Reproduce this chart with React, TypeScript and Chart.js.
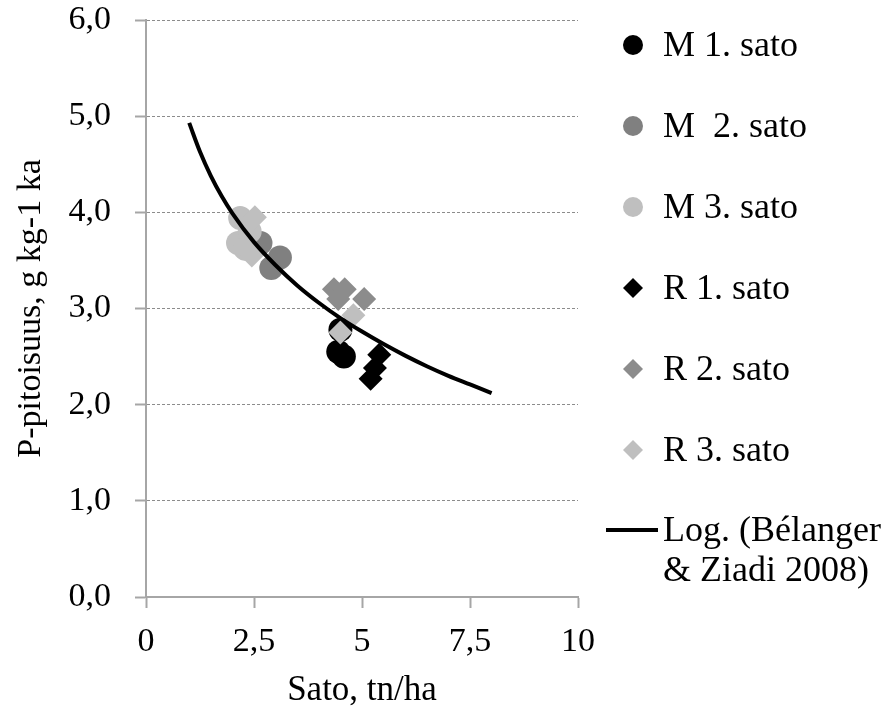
import React, { useEffect, useRef } from 'react';
import { Chart, registerables } from 'chart.js';

Chart.register(...registerables);

// ---- data ----
const seriesNames = ['M 1. sato', 'M  2. sato', 'M 3. sato', 'R 1. sato', 'R 2. sato', 'R 3. sato'];
const trendLabel = ['Log. (Bélanger', '& Ziadi 2008)'];

const m1X = [4.5, 4.45, 4.58];
const m1Y = [2.78, 2.55, 2.5];
const m2X = [2.65, 2.9, 3.1];
const m2Y = [3.68, 3.42, 3.53];
const m3X = [2.18, 2.13, 2.4, 2.3];
const m3Y = [3.94, 3.68, 3.8, 3.62];
const r1X = [5.4, 5.3, 5.2];
const r1Y = [2.52, 2.38, 2.27];
const r2X = [4.35, 4.6, 4.45, 5.05];
const r2Y = [3.2, 3.2, 3.1, 3.1];
const r3X = [4.8, 4.5, 2.52, 2.45];
const r3Y = [2.93, 2.75, 3.95, 3.55];

const trendX = [1, 1.25, 1.5, 1.75, 2, 2.5, 3, 3.5, 4, 4.5, 5, 5.5, 6, 6.5, 7, 7.5, 8];
const trendY = [4.93, 4.63, 4.38, 4.17, 3.99, 3.69, 3.45, 3.24, 3.06, 2.9, 2.76, 2.63, 2.51, 2.4, 2.3, 2.21, 2.12];

const xTickLabels = ['0', '2,5', '5', '7,5', '10'];
const yTickLabels = ['0,0', '1,0', '2,0', '3,0', '4,0', '5,0', '6,0'];

const xTitle = 'Sato, tn/ha';
const yTitle = 'P-pitoisuus, g kg-1 ka';

// ---- styles ----
const FONT = "'Liberation Serif', 'Times New Roman', serif";
const FS = 34;
const LFS = 36;
const seriesColors = ['#000000', '#808080', '#bfbfbf', '#000000', '#8c8c8c', '#bfbfbf'];
const seriesShapes = ['circle', 'circle', 'circle', 'diamond', 'diamond', 'diamond'];

const pts = (xs: number[], ys: number[]) => xs.map((x, i) => ({ x, y: ys[i] }));

const legendPlugin = {
  id: 'sideLegend',
  afterDraw(chart: any) {
    const ctx = chart.ctx as CanvasRenderingContext2D;
    ctx.save();
    ctx.font = `${LFS}px ${FONT}`;
    ctx.textBaseline = 'middle';
    ctx.textAlign = 'left';
    const mx = 633;
    const tx = 663;
    seriesNames.forEach((name, i) => {
      const y = 45 + i * 81;
      ctx.fillStyle = seriesColors[i];
      ctx.beginPath();
      if (seriesShapes[i] === 'circle') {
        ctx.arc(mx, y, 10, 0, Math.PI * 2);
      } else {
        ctx.moveTo(mx, y - 10);
        ctx.lineTo(mx + 10, y);
        ctx.lineTo(mx, y + 10);
        ctx.lineTo(mx - 10, y);
        ctx.closePath();
      }
      ctx.fill();
      ctx.fillStyle = '#000';
      ctx.fillText(name, tx, y + 2);
    });
    const ly = 530;
    ctx.strokeStyle = '#000';
    ctx.lineWidth = 4;
    ctx.beginPath();
    ctx.moveTo(606, ly);
    ctx.lineTo(658, ly);
    ctx.stroke();
    ctx.fillStyle = '#000';
    ctx.fillText(trendLabel[0], tx, ly + 2);
    ctx.fillText(trendLabel[1], tx, ly + 42);
    ctx.restore();
  },
};

export default function App() {
  const ref = useRef<HTMLCanvasElement>(null);
  useEffect(() => {
    if (!ref.current) return;
    const scatter = (label: string, xs: number[], ys: number[], idx: number, order: number) => ({
      type: 'scatter' as const,
      label,
      data: pts(xs, ys),
      backgroundColor: seriesColors[idx],
      borderColor: seriesColors[idx],
      borderWidth: 0,
      pointStyle: seriesShapes[idx] === 'circle' ? 'circle' : 'rectRot',
      pointRadius: 12,
      order,
    });
    const chart = new Chart(ref.current, {
      type: 'scatter',
      data: {
        datasets: [
          {
            type: 'line',
            label: trendLabel.join(' '),
            data: pts(trendX, trendY),
            borderColor: '#000',
            borderWidth: 4,
            pointRadius: 0,
            fill: false,
            showLine: true,
            cubicInterpolationMode: 'monotone',
            order: 0,
          } as any,
          scatter(seriesNames[5], r3X, r3Y, 5, 1),
          scatter(seriesNames[4], r2X, r2Y, 4, 2),
          scatter(seriesNames[3], r1X, r1Y, 3, 3),
          scatter(seriesNames[2], m3X, m3Y, 2, 4),
          scatter(seriesNames[1], m2X, m2Y, 1, 5),
          scatter(seriesNames[0], m1X, m1Y, 0, 6),
        ],
      },
      options: {
        animation: false,
        responsive: true,
        maintainAspectRatio: false,
        layout: { padding: { left: 0, top: 20, right: 316, bottom: 0 } },
        plugins: { legend: { display: false }, tooltip: { enabled: false } },
        scales: {
          x: {
            type: 'linear',
            min: 0,
            max: 10,
            afterFit: (s: any) => { s.height = 111; s.paddingLeft = 0; s.paddingRight = 0; },
            ticks: {
              stepSize: 2.5,
              color: '#000',
              padding: 14,
              font: { family: FONT, size: FS },
              callback: (v: any) => xTickLabels[Math.round(Number(v) / 2.5)] ?? '',
            },
            grid: { drawOnChartArea: false, drawTicks: true, tickLength: 11, color: '#a6a6a6', tickWidth: 2 },
            border: { color: '#a6a6a6', width: 2 },
            title: {
              display: true,
              text: xTitle,
              color: '#000',
              font: { family: FONT, size: 35, lineHeight: 1 },
              padding: { top: 0, bottom: 0 },
            },
          },
          y: {
            type: 'linear',
            min: 0,
            max: 6,
            afterFit: (s: any) => { s.width = 146; s.paddingTop = 0; s.paddingBottom = 0; },
            ticks: {
              stepSize: 1,
              color: '#000',
              padding: 24,
              font: { family: FONT, size: FS },
              callback: (v: any) => yTickLabels[Math.round(Number(v))] ?? '',
            },
            grid: { color: '#8c8c8c', lineWidth: 1, tickLength: 11, tickColor: '#a6a6a6', tickWidth: 2 },
            border: { color: '#a6a6a6', width: 2, dash: [3, 2] },
            title: {
              display: true,
              text: yTitle,
              color: '#000',
              font: { family: FONT, size: FS, lineHeight: 1 },
              padding: { top: 14, bottom: 0 },
            },
          },
        },
      },
      plugins: [legendPlugin],
    } as any);
    return () => chart.destroy();
  }, []);
  return (
    <div style={{ position: 'absolute', left: 0, top: 0, width: 894, height: 708, background: '#fff' }}>
      <canvas ref={ref} />
    </div>
  );
}
